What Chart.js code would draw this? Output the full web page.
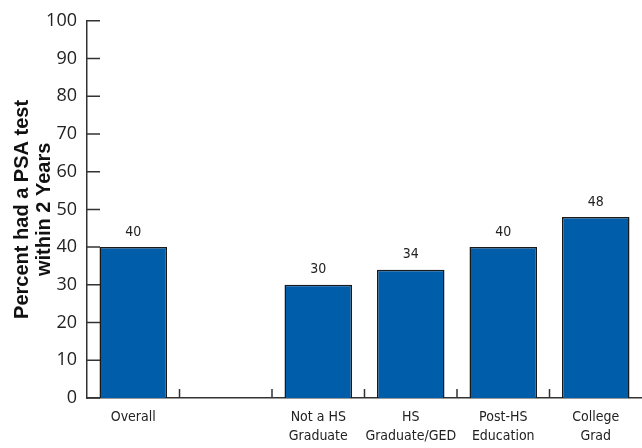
<!DOCTYPE html>
<html>
<head>
<meta charset="utf-8">
<script src="https://cdn.jsdelivr.net/npm/chart.js@4"></script>
<style>
  html, body { margin: 0; padding: 0; background: #fff; }
  #wrap { width: 642px; height: 448px; }
</style>
</head>
<body>
<div id="wrap"><canvas id="psaChart"></canvas></div>
<script>
var categories = [['Overall'], [''], ['Not a HS', 'Graduate'], ['HS', 'Graduate/GED'], ['Post-HS', 'Education'], ['College', 'Grad']];
var percents = [40, null, 30, 34, 40, 48];
var yTicks = [0, 10, 20, 30, 40, 50, 60, 70, 80, 90, 100];

var axisColor = '#333';
var narrowFont = '"Liberation Sans Narrow", "DejaVu Sans Condensed", sans-serif';

// value labels above bars
var barLabels = {
    id: 'barLabels',
    afterDatasetsDraw: function(chart) {
        var ctx = chart.ctx;
        var meta = chart.getDatasetMeta(0);
        ctx.save();
        ctx.font = '14px ' + narrowFont;
        ctx.fillStyle = '#222';
        ctx.textAlign = 'center';
        ctx.textBaseline = 'middle';
        meta.data.forEach(function(bar, i) {
            if (percents[i] == null) return;
            ctx.fillText(String(percents[i]), bar.x, bar.y - 15);
        });
        ctx.restore();
    }
};

// inward tick marks on both axes
var innerTicks = {
    id: 'innerTicks',
    afterDraw: function(chart) {
        var ctx = chart.ctx;
        var x = chart.scales.x, y = chart.scales.y;
        ctx.save();
        ctx.strokeStyle = axisColor;
        ctx.lineWidth = 1.5;
        ctx.beginPath();
        yTicks.forEach(function(v) {
            var py = y.getPixelForValue(v);
            ctx.moveTo(x.left, py);
            ctx.lineTo(x.left + 13, py);
        });
        for (var i = 1; i < categories.length; i++) {
            var px = (x.getPixelForValue(i - 1) + x.getPixelForValue(i)) / 2;
            ctx.moveTo(px, y.bottom);
            ctx.lineTo(px, y.bottom - 9);
        }
        ctx.stroke();
        ctx.restore();
    }
};

new Chart(document.getElementById('psaChart'), {
    type: 'bar',
    data: {
        labels: categories,
        datasets: [{
            data: percents,
            backgroundColor: '#005DAA',
            borderColor: '#1a1a1a',
            borderWidth: 1.5,
            categoryPercentage: 1,
            barPercentage: 0.73
        }]
    },
    options: {
        responsive: true,
        maintainAspectRatio: false,
        animation: false,
        layout: { padding: { top: 19, right: 0, left: 0, bottom: 0 } },
        plugins: {
            legend: { display: false },
            tooltip: { enabled: false }
        },
        scales: {
            x: {
                grid: { display: false, drawTicks: false },
                border: { display: true, color: axisColor, width: 1.5 },
                ticks: {
                    color: '#222',
                    padding: 10,
                    maxRotation: 0,
                    autoSkip: false,
                    font: { family: narrowFont, size: 14, lineHeight: 1.35 }
                },
                afterFit: function(scale) { scale.height = 50; }
            },
            y: {
                min: 0,
                max: 100,
                grid: { display: false, drawTicks: false },
                border: { display: true, color: axisColor, width: 1.5 },
                ticks: {
                    stepSize: 10,
                    color: '#222',
                    padding: 10,
                    font: { family: '"Open Sans", sans-serif', size: 18 }
                },
                title: {
                    display: true,
                    text: ['Percent had a PSA test', 'within 2 Years'],
                    color: '#111',
                    padding: { top: 11, bottom: 0 },
                    font: { family: '"Liberation Sans", Arial, sans-serif', size: 20, weight: 'bold', lineHeight: 1.1 }
                },
                afterFit: function(scale) { scale.width = 87; }
            }
        }
    },
    plugins: [barLabels, innerTicks]
});
</script>
</body>
</html>
